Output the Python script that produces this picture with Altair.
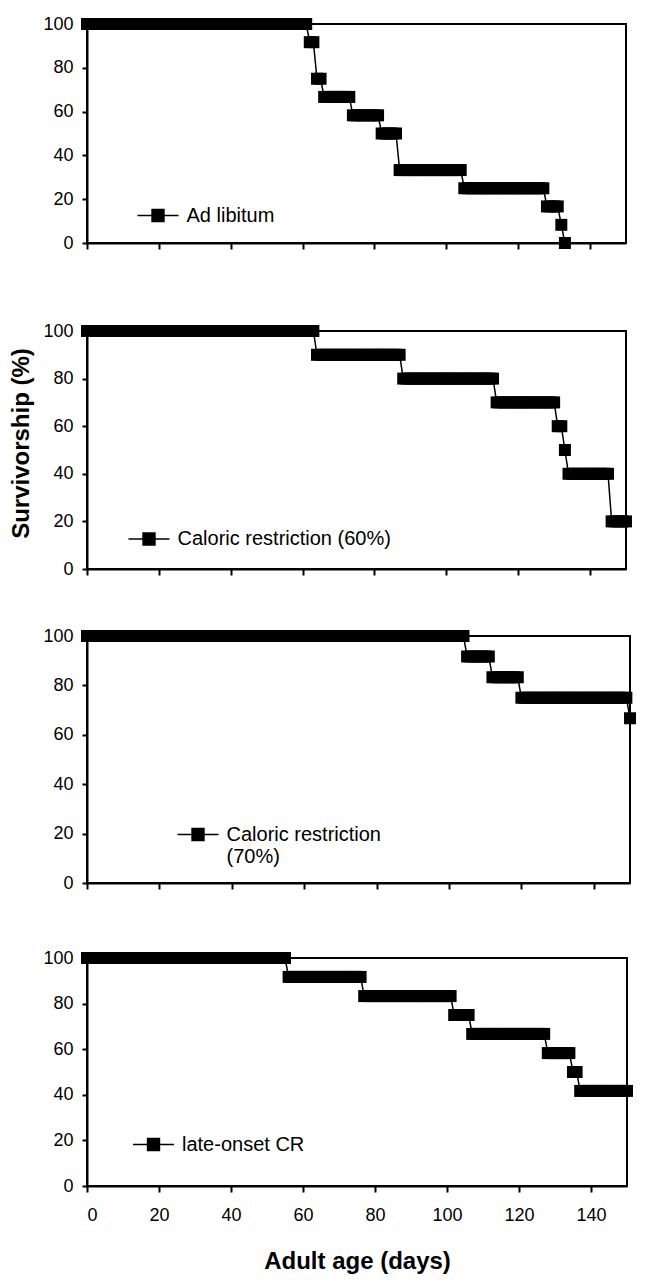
import altair as alt
import pandas as pd

X_TICKS = [0, 20, 40, 60, 80, 100, 120, 140]
Y_TICKS = [0, 20, 40, 60, 80, 100]

# Each survival level (%) and the last adult-age day on which it was recorded.
# A level starts on the day after the previous level's last day (first level starts at day 0).
AL_LABEL = "Ad libitum"
AL_SURV = [100, 91.7, 75, 66.7, 58.3, 50, 33.3, 25, 16.7, 8.3, 0]
AL_LAST = [61, 63, 65, 73, 81, 86, 104, 127, 131, 132, 133]

CR60_LABEL = "Caloric restriction (60%)"
CR60_SURV = [100, 90, 80, 70, 60, 50, 40, 20]
CR60_LAST = [63, 87, 113, 130, 132, 133, 145, 150]

CR70_LABEL = "Caloric restriction|(70%)"
CR70_SURV = [100, 91.7, 83.3, 75, 66.7]
CR70_LAST = [104, 111, 119, 149, 150]

LO_LABEL = "late-onset CR"
LO_SURV = [100, 91.7, 83.3, 75, 66.7, 58.3, 50, 41.7]
LO_LAST = [55, 76, 101, 106, 127, 134, 136, 150]

LEGEND_SYMBOL = "M-1,0H1M-0.29,-0.29H0.29V0.29H-0.29Z"
FONT = "Liberation Sans"


def daily_table(surv, last_days, label):
    rows = []
    day = 0
    for s, last in zip(surv, last_days):
        while day <= last:
            rows.append({"day": day, "survival": s, "group": label})
            day += 1
    return pd.DataFrame(rows)


def panel(df, label, width, height, leg_x, leg_y, x_title=None,
          y_title=None, pad_title=None, pad_size=10):
    if x_title:
        x_axis = alt.Axis(values=X_TICKS, labels=True, title=x_title,
                          titleFontSize=24, titleFontWeight="bold", titlePadding=25)
    else:
        x_axis = alt.Axis(values=X_TICKS, labels=False, title=None)
    if y_title:
        y_axis = alt.Axis(values=Y_TICKS, title=y_title, titleFontSize=24,
                          titleFontWeight="bold", titleAngle=270, titleBaseline="middle",
                          titleAlign="center", titleX=-66, titleY=height / 2 - 7)
    else:
        y_axis = alt.Axis(values=Y_TICKS, title=None)
    x = alt.X("day:Q", scale=alt.Scale(domain=[0, 150], nice=False, zero=False), axis=x_axis)
    y = alt.Y("survival:Q", scale=alt.Scale(domain=[0, 100], nice=False), axis=y_axis)
    base = alt.Chart(df)
    line = base.mark_line(color="black", strokeWidth=1.5).encode(x=x, y=y)
    legend = alt.Legend(
        orient="none", legendX=leg_x, legendY=leg_y, title=None,
        symbolType=LEGEND_SYMBOL, symbolSize=1681, symbolStrokeWidth=1.5,
        symbolStrokeColor="black", symbolFillColor="black",
        labelFont=FONT, labelFontSize=20, labelColor="black", labelOffset=7,
        labelLimit=500, padding=0, labelExpr="split(datum.label, '|')",
    )
    pts = base.mark_square(size=144, opacity=1, color="black").encode(
        x=x, y=y,
        color=alt.Color("group:N", scale=alt.Scale(domain=[label], range=["black"]), legend=legend),
    )
    props = dict(width=width, height=height)
    if pad_title is not None:
        props["title"] = alt.TitleParams(" ", fontSize=pad_size, offset=pad_title)
    return alt.layer(line, pts).properties(**props)


p1 = panel(daily_table(AL_SURV, AL_LAST, AL_LABEL), AL_LABEL, 539, 219, 49.5, 170)
p2 = panel(daily_table(CR60_SURV, CR60_LAST, CR60_LABEL), CR60_LABEL, 539, 238, 40.5, 186.5,
           y_title="Survivorship (%)", pad_title=11)
p3 = panel(daily_table(CR70_SURV, CR70_LAST, CR70_LABEL), CR70_LABEL, 543, 247, 89.5, 177)
p4 = panel(daily_table(LO_SURV, LO_LAST, LO_LABEL), LO_LABEL, 540, 228, 45, 165,
           x_title="Adult age (days)", pad_title=0, pad_size=8)

chart = (
    alt.vconcat(p1, p2, p3, p4, spacing=47)
    .resolve_scale(color="independent")
    .resolve_legend(color="independent")
    .properties(padding={"left": 0, "top": 6, "right": 5, "bottom": 5})
    .configure(font=FONT)
    .configure_view(stroke="black", strokeWidth=2)
    .configure_axis(domainColor="black", domainWidth=2, tickColor="black", tickWidth=2,
                    labelFont=FONT, labelFontSize=18, labelColor="black", grid=False,
                    titleFont=FONT, titleColor="black")
    .configure_axisY(tickSize=5, labelPadding=9)
    .configure_axisX(tickSize=6, labelPadding=14)
)

chart.save("out.html", embed_options={"renderer": "svg", "actions": False})
